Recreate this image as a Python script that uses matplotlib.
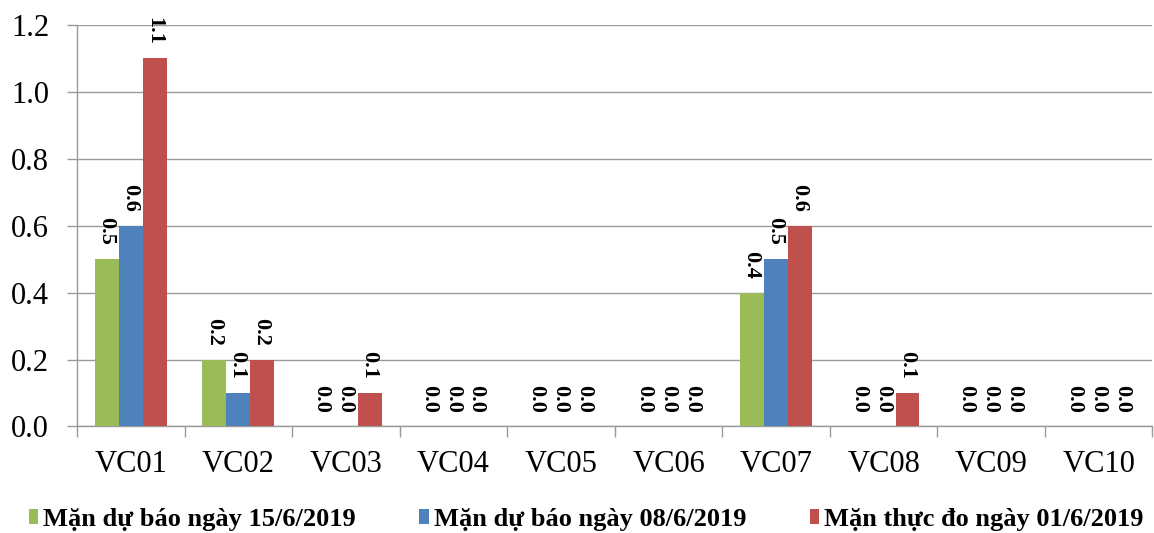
import matplotlib
matplotlib.use('Agg')
import matplotlib.pyplot as plt
import numpy as np

plt.rcParams['font.family'] = ['Liberation Serif', 'DejaVu Serif']

# Data
stations = ['VC01', 'VC02', 'VC03', 'VC04', 'VC05', 'VC06', 'VC07', 'VC08', 'VC09', 'VC10']
forecast_15 = [0.5, 0.2, 0.0, 0.0, 0.0, 0.0, 0.4, 0.0, 0.0, 0.0]
forecast_08 = [0.6, 0.1, 0.0, 0.0, 0.0, 0.0, 0.5, 0.0, 0.0, 0.0]
measured_01 = [1.1, 0.2, 0.1, 0.0, 0.0, 0.0, 0.6, 0.1, 0.0, 0.0]
series_names = ['Mặn dự báo ngày 15/6/2019', 'Mặn dự báo ngày 08/6/2019', 'Mặn thực đo ngày 01/6/2019']
y_ticks = [0.0, 0.2, 0.4, 0.6, 0.8, 1.0, 1.2]

colors = ['#9BBB59', '#4F81BD', '#C0504D']
grid_col = '#9a9a9a'

fig = plt.figure(figsize=(11.54, 5.33), dpi=100)
ax = fig.add_axes([0.0667, 0.2, 0.932, 0.753])

x = np.arange(len(stations))
w = 0.222
for i, (vals, name) in enumerate(zip([forecast_15, forecast_08, measured_01], series_names)):
    pos = x + (i - 1) * w
    ax.bar(pos, vals, width=w, color=colors[i], label=name, zorder=3)
    for px, v in zip(pos, vals):
        ax.annotate(f'{v:.1f}', (px, v), xytext=(-0.5, 10), textcoords='offset points',
                    rotation=270, ha='center', va='bottom', fontsize=16,
                    fontweight='bold', zorder=4)

ax.set_xlim(-0.5, len(stations) - 0.5)
ax.set_ylim(0, 1.2)
ax.set_yticks(y_ticks)
ax.set_yticklabels([f'{t:.1f}' for t in y_ticks], fontsize=22)
ax.set_xticks(x)
ax.set_xticklabels(stations, fontsize=22)
ax.set_xticks(np.arange(-0.5, len(stations), 1), minor=True)
ax.tick_params(axis='x', which='major', length=0, pad=17)
ax.tick_params(axis='x', which='minor', length=8, color=grid_col, width=1)
ax.tick_params(axis='y', length=7, color=grid_col, width=1, pad=13)

ax.yaxis.grid(True, color=grid_col, linewidth=1, zorder=0)
for s in ['top', 'right']:
    ax.spines[s].set_visible(False)
for s in ['left', 'bottom']:
    ax.spines[s].set_color(grid_col)
    ax.spines[s].set_linewidth(1)

fig.legend(loc='center', bbox_to_anchor=(0.508, 0.026), ncol=3, frameon=False,
           prop={'weight': 'bold', 'size': 19}, handlelength=0.35, handleheight=0.5,
           handletextpad=0.2, columnspacing=2.4, borderaxespad=0, borderpad=0)

fig.savefig('out.png', dpi=100)
